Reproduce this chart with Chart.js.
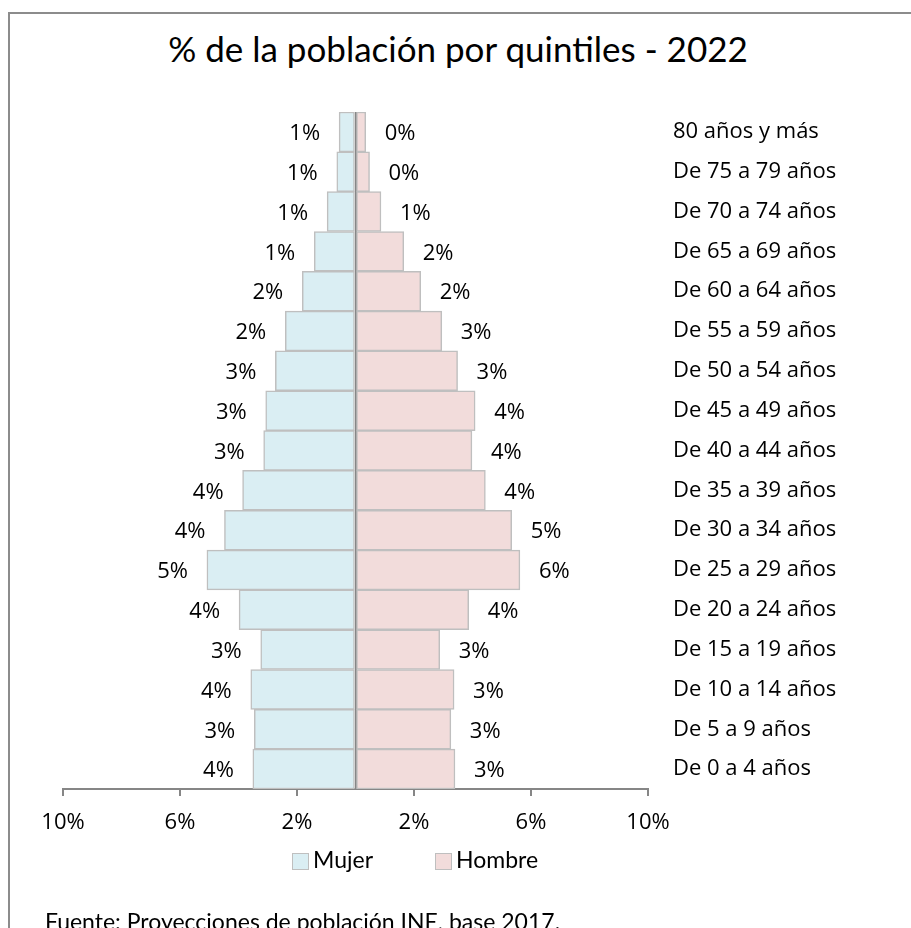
<!DOCTYPE html>
<html lang="es">
<head>
<meta charset="utf-8">
<title>% de la población por quintiles - 2022</title>
<script src="https://cdn.jsdelivr.net/npm/chart.js@4.4.1/dist/chart.umd.min.js"></script>
<style>
  html, body { margin: 0; padding: 0; width: 911px; height: 928px; overflow: hidden; background: #fff; }
  body { font-family: Lato, "Open Sans", sans-serif; color: #000; }
  #frame { position: absolute; left: 8px; top: 12px; width: 1000px; height: 1000px; border: 2px solid #8c8c8c; box-sizing: border-box; }
  #title { position: absolute; left: 8px; width: 900px; top: 31px; text-align: center; font-size: 35px; line-height: 1; }
  #source { position: absolute; left: 45px; top: 910px; font-size: 23px; line-height: 1; white-space: nowrap; }
  canvas { position: absolute; left: 0; top: 0; }
  .legend-item { position: absolute; top: 847px; font-size: 23px; line-height: 24px; white-space: nowrap; }
  .legend-item span { display: inline-block; width: 17px; height: 17px; box-sizing: border-box; border: 1.5px solid #BFBFBF; vertical-align: -2px; margin-right: 4px; }
</style>
</head>
<body>
<div id="frame"></div>
<div id="title">% de la población por quintiles - 2022</div>
<canvas id="pyramid" width="911" height="928"></canvas>
<div id="legend"></div>
<div id="source">Fuente: Proyecciones de población INE, base 2017.</div>
<script>
// age groups, youngest first (y axis is reversed so 80+ sits on top)
const ageGroups = [
    'De 0 a 4 años', 'De 5 a 9 años', 'De 10 a 14 años', 'De 15 a 19 años',
    'De 20 a 24 años', 'De 25 a 29 años', 'De 30 a 34 años', 'De 35 a 39 años',
    'De 40 a 44 años', 'De 45 a 49 años', 'De 50 a 54 años', 'De 55 a 59 años',
    'De 60 a 64 años', 'De 65 a 69 años', 'De 70 a 74 años', 'De 75 a 79 años',
    '80 años y más'
];
// % of population
const mujer = [3.51, 3.46, 3.58, 3.24, 3.98, 5.08, 4.48, 3.86, 3.14, 3.07, 2.74, 2.40, 1.82, 1.41, 0.97, 0.64, 0.56];
const hombre = [3.40, 3.26, 3.37, 2.88, 3.87, 5.62, 5.34, 4.44, 3.98, 4.09, 3.49, 2.95, 2.23, 1.65, 0.87, 0.48, 0.35];
const xTicks = [-10, -6, -2, 0, 2, 6, 10];

const LABEL_FONT = 'Open Sans';
const AXIS_GREY = '#868686';

// value labels outside the end of every bar
const barLabels = {
    id: 'barLabels',
    afterDatasetsDraw(chart) {
        const ctx = chart.ctx;
        ctx.save();
        ctx.font = '22px "' + LABEL_FONT + '"';
        ctx.fillStyle = '#000';
        ctx.textBaseline = 'middle';
        chart.data.datasets.forEach((ds, i) => {
            chart.getDatasetMeta(i).data.forEach((bar, j) => {
                const v = ds.data[j];
                const isLeft = v < 0;
                ctx.textAlign = isLeft ? 'right' : 'left';
                ctx.fillText(Math.round(Math.abs(v)) + '%', bar.x + (isLeft ? -19 : 19), bar.y + 2);
            });
        });
        ctx.restore();
    }
};

const chart = new Chart(document.getElementById('pyramid'), {
    type: 'bar',
    data: {
        labels: ageGroups,
        datasets: [{
            label: 'Mujer',
            data: mujer.map(v => -v),
            backgroundColor: '#DAEEF3',
            borderColor: '#BFBFBF',
            borderWidth: 1.5,
            borderSkipped: false,
            barPercentage: 1,
            categoryPercentage: 1
        }, {
            label: 'Hombre',
            data: hombre,
            backgroundColor: '#F2DCDB',
            borderColor: '#BFBFBF',
            borderWidth: 1.5,
            borderSkipped: false,
            barPercentage: 1,
            categoryPercentage: 1
        }]
    },
    options: {
        indexAxis: 'y',
        responsive: false,
        animation: false,
        layout: {
            padding: {left: 63, right: 33, top: 112, bottom: 89}
        },
        scales: {
            x: {
                stacked: true,
                min: -10,
                max: 10,
                z: 1,
                afterBuildTicks: (axis) => {
                    axis.ticks = xTicks.map(v => ({value: v}));
                },
                afterFit: (axis) => {
                    axis.height = 50;
                },
                ticks: {
                    autoSkip: false,
                    maxRotation: 0,
                    padding: 14,
                    color: '#000',
                    font: {family: LABEL_FONT, size: 22},
                    callback: (v) => v === 0 ? '' : Math.abs(v) + '%'
                },
                grid: {
                    drawOnChartArea: true,
                    tickLength: 7,
                    lineWidth: 2,
                    color: (c) => (c.tick && c.tick.value === 0) ? AXIS_GREY : 'rgba(0,0,0,0)',
                    tickColor: (c) => (c.tick && c.tick.value === 0) ? 'rgba(0,0,0,0)' : AXIS_GREY,
                    tickWidth: 2
                },
                border: {display: true, color: AXIS_GREY, width: 2}
            },
            y: {
                stacked: true,
                reverse: true,
                position: 'right',
                afterFit: (axis) => {
                    axis.width = 230;
                },
                ticks: {
                    padding: 25,
                    color: '#000',
                    font: {family: LABEL_FONT, size: 22}
                },
                grid: {display: false, drawTicks: false},
                border: {display: false}
            }
        },
        plugins: {
            title: {display: false},
            tooltip: {enabled: false},
            legend: {display: false}
        }
    },
    plugins: [barLabels]
});

// legend in the spot Excel puts it, coloured from the datasets
const legendLeft = [292, 435];
chart.data.datasets.forEach((ds, i) => {
    const item = document.createElement('div');
    item.className = 'legend-item';
    item.style.left = legendLeft[i] + 'px';
    const box = document.createElement('span');
    box.style.background = ds.backgroundColor;
    item.appendChild(box);
    item.appendChild(document.createTextNode(ds.label));
    document.getElementById('legend').appendChild(item);
});
</script>
</body>
</html>
